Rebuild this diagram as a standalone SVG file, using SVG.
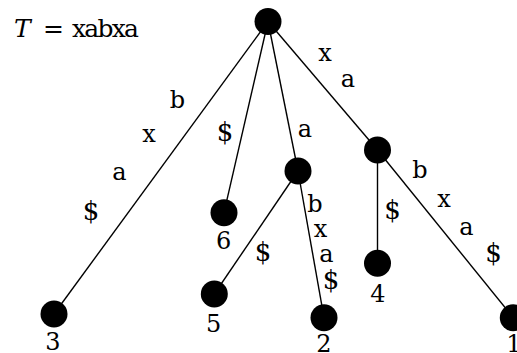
<svg xmlns="http://www.w3.org/2000/svg" width="517" height="353" viewBox="0 0 517 353">
<style>
  .edge { stroke: #000; stroke-width: 1.4; fill: none; }
  .node { fill: #000; }
  .lbl { font-family: 'DejaVu Serif', serif; font-size: 24px; fill: #000; text-anchor: middle; }
  .dol { font-size: 26px; }
  .title { font-family: 'DejaVu Serif', serif; font-size: 25px; fill: #000; }
</style>
<rect width="517" height="353" fill="#fff"/>
<text class="title" x="14" y="37"><tspan font-style="italic">T</tspan><tspan x="43">=</tspan><tspan x="72" textLength="67">xabxa</tspan></text>
<g id="connectors">
  <line class="edge" x1="268" y1="21.5" x2="54" y2="314"/>
  <line class="edge" x1="268" y1="21.5" x2="224" y2="212.7"/>
  <line class="edge" x1="268" y1="21.5" x2="298" y2="171"/>
  <line class="edge" x1="268" y1="21.5" x2="377.5" y2="150"/>
  <line class="edge" x1="298" y1="171" x2="214.3" y2="294"/>
  <line class="edge" x1="298" y1="171" x2="324" y2="317.7"/>
  <line class="edge" x1="377.5" y1="150" x2="377.5" y2="263.3"/>
  <line class="edge" x1="377.5" y1="150" x2="513.3" y2="317.7"/>
  <text class="lbl" x="177.5" y="108">b</text>
  <text class="lbl" x="149" y="141.5">x</text>
  <text class="lbl" x="119.5" y="180">a</text>
  <text class="lbl dol" x="91" y="220">$</text>
  <text class="lbl dol" x="225" y="141">$</text>
  <text class="lbl" x="305" y="136.5">a</text>
  <text class="lbl" x="325" y="60.5">x</text>
  <text class="lbl" x="348" y="86.5">a</text>
  <text class="lbl" x="420" y="178">b</text>
  <text class="lbl" x="444" y="206.5">x</text>
  <text class="lbl" x="466.5" y="235">a</text>
  <text class="lbl dol" x="493.5" y="262">$</text>
  <text class="lbl dol" x="392.5" y="219">$</text>
  <text class="lbl" x="315" y="211.5">b</text>
  <text class="lbl" x="320.5" y="236.5">x</text>
  <text class="lbl" x="326.5" y="261.5">a</text>
  <text class="lbl dol" x="331" y="289">$</text>
  <text class="lbl dol" x="263" y="261">$</text>
</g>
<g id="root"><circle class="node" cx="268" cy="21.5" r="13.5"/></g>
<g id="n_a"><circle class="node" cx="298" cy="171" r="13.5"/></g>
<g id="n_xa"><circle class="node" cx="377.5" cy="150" r="13.5"/></g>
<g id="leaf3"><circle class="node" cx="54" cy="314" r="13.5"/><text class="lbl" x="53" y="350">3</text></g>
<g id="leaf6"><circle class="node" cx="224" cy="212.7" r="13.5"/><text class="lbl" x="223.7" y="249">6</text></g>
<g id="leaf5"><circle class="node" cx="214.3" cy="294" r="13.5"/><text class="lbl" x="213.7" y="331.5">5</text></g>
<g id="leaf2"><circle class="node" cx="324" cy="317.7" r="13.5"/><text class="lbl" x="324" y="351.5">2</text></g>
<g id="leaf4"><circle class="node" cx="377.5" cy="263.3" r="13.5"/><text class="lbl" x="378" y="301.5">4</text></g>
<g id="leaf1"><circle class="node" cx="513.3" cy="317.7" r="13.5"/><text class="lbl" x="514" y="351.5">1</text></g>
</svg>
